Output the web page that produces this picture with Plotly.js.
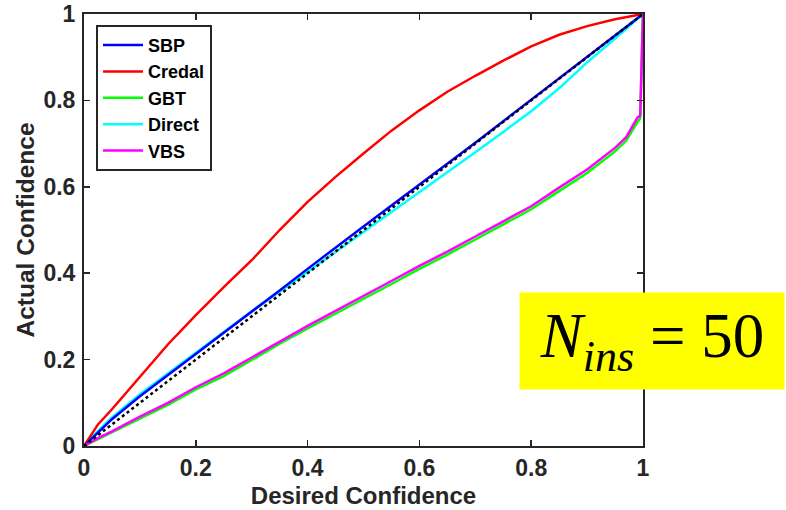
<!DOCTYPE html>
<html>
<head>
<meta charset="utf-8">
<script src="https://cdn.plot.ly/plotly-3.0.1.min.js"></script>
<style>html,body{margin:0;padding:0;background:#fff;}#chart{width:786px;height:510px;}</style>
</head>
<body>
<div id="chart"></div>
<script>
// Desired confidence (x) and actual confidence (y) for each method
const xMain = [0, 0.025, 0.05, 0.1, 0.15, 0.2, 0.25, 0.3, 0.35, 0.4, 0.45, 0.5, 0.55, 0.6, 0.65, 0.7, 0.75, 0.8, 0.85, 0.9, 0.95, 1.0];
const sbp    = [0, 0.032, 0.062, 0.115, 0.165, 0.213, 0.262, 0.31, 0.36, 0.41, 0.458, 0.508, 0.557, 0.605, 0.652, 0.702, 0.752, 0.801, 0.851, 0.9, 0.95, 1.0];
const credal = [0, 0.05, 0.085, 0.16, 0.235, 0.303, 0.368, 0.43, 0.5, 0.565, 0.623, 0.677, 0.73, 0.777, 0.82, 0.857, 0.892, 0.925, 0.952, 0.972, 0.988, 1.0];
const direct = [0, 0.035, 0.066, 0.12, 0.168, 0.216, 0.266, 0.312, 0.357, 0.403, 0.449, 0.494, 0.54, 0.588, 0.633, 0.68, 0.727, 0.775, 0.828, 0.888, 0.943, 1.0];

const xLow = [0, 0.025, 0.05, 0.1, 0.15, 0.2, 0.25, 0.3, 0.35, 0.4, 0.45, 0.5, 0.55, 0.6, 0.65, 0.7, 0.75, 0.8, 0.85, 0.9, 0.95, 0.97, 0.99, 0.995, 1.0];
const vbs = [0, 0.018, 0.034, 0.068, 0.1, 0.136, 0.168, 0.205, 0.243, 0.278, 0.313, 0.347, 0.382, 0.417, 0.45, 0.485, 0.52, 0.555, 0.598, 0.64, 0.69, 0.715, 0.76, 0.765, 1.0];
const gbt = [0, 0.016, 0.031, 0.064, 0.095, 0.131, 0.162, 0.199, 0.237, 0.272, 0.306, 0.34, 0.375, 0.41, 0.443, 0.478, 0.513, 0.548, 0.59, 0.632, 0.682, 0.707, 0.75, 0.758, 1.0];

const ideal = [0, 1];

const axisColor = '#262626';
const fontFam = 'Arial, "Liberation Sans", sans-serif';

const traces = [
  {x: xLow, y: gbt, mode: 'lines', name: 'GBT', line: {color: '#00ff00', width: 2.5}, legendrank: 3},
  {x: xMain, y: direct, mode: 'lines', name: 'Direct', line: {color: '#00ffff', width: 2.5}, legendrank: 4},
  {x: xMain, y: credal, mode: 'lines', name: 'Credal', line: {color: '#ff0000', width: 2.5}, legendrank: 2},
  {x: xMain, y: sbp, mode: 'lines', name: 'SBP', line: {color: '#0000ff', width: 2.5}, legendrank: 1},
  {x: xLow, y: vbs, mode: 'lines', name: 'VBS', line: {color: '#ff00ff', width: 2.5}, legendrank: 5},
  {x: ideal, y: ideal, mode: 'lines', line: {color: '#000', width: 2.5, dash: 'dot'}, showlegend: false, hoverinfo: 'skip'}
];

const axisCommon = {
  range: [0, 1],
  showgrid: false,
  zeroline: false,
  showline: true,
  linecolor: axisColor,
  linewidth: 2,
  mirror: 'ticks',
  ticks: 'inside',
  ticklen: 6,
  tickwidth: 1.5,
  tickcolor: axisColor,
  tickvals: [0, 0.2, 0.4, 0.6, 0.8, 1],
  ticktext: ['0', '0.2', '0.4', '0.6', '0.8', '1'],
  tickfont: {family: fontFam, size: 23, color: axisColor, weight: 'bold'}
};

const layout = {
  width: 786,
  height: 510,
  margin: {l: 84, r: 143, t: 14, b: 64},
  paper_bgcolor: '#fff',
  plot_bgcolor: '#fff',
  xaxis: Object.assign({}, axisCommon, {
    title: {text: 'Desired Confidence', font: {family: fontFam, size: 24, color: axisColor, weight: 'bold'}, standoff: 8}
  }),
  yaxis: Object.assign({}, axisCommon, {
    ticklabelstandoff: 2,
    title: {text: 'Actual Confidence', font: {family: fontFam, size: 24.5, color: axisColor, weight: 'bold'}, standoff: 2}
  }),
  legend: {
    x: 0.0215, y: 0.975, xanchor: 'left', yanchor: 'top',
    bgcolor: '#fff', bordercolor: axisColor, borderwidth: 2,
    font: {family: fontFam, size: 18, color: '#000', weight: 'bold'},
    itemwidth: 40,
    traceorder: 'normal',
    tracegroupgap: 0
  },
  annotations: [{
    xref: 'paper', yref: 'paper',
    x: 1.016, y: 0.243, xanchor: 'center', yanchor: 'middle',
    text: '<i>N</i><sub><i>ins</i></sub> = 50',
    showarrow: false,
    font: {family: '"Liberation Serif", "Times New Roman", serif', size: 63, color: '#000'},
    bgcolor: '#ffff00',
    width: 264, height: 96, borderpad: 0,
    align: 'center', valign: 'middle'
  }],
  showlegend: true
};

Plotly.newPlot('chart', traces, layout, {displayModeBar: false, staticPlot: true});
</script>
</body>
</html>
